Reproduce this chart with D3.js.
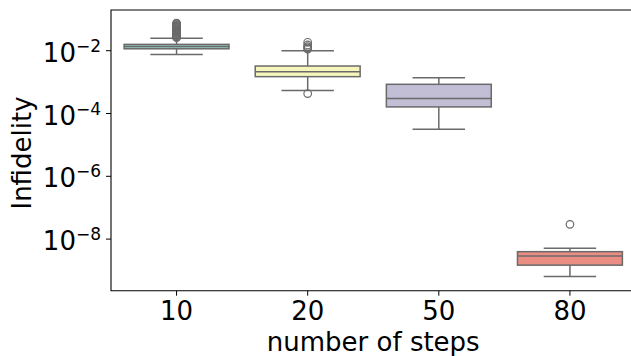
<!DOCTYPE html>
<html>
<head>
<meta charset="utf-8">
<script src="https://cdn.jsdelivr.net/npm/d3@7"></script>
<style>
  body { margin: 0; background: #fff; overflow: hidden; }
  svg { display: block; }
  text { font-family: "DejaVu Sans", sans-serif; fill: #000; }
</style>
</head>
<body>
<div id="chart"></div>
<script>
// box stats
const steps = ["10", "20", "50", "80"];
const whiskerLo = [7.5e-3, 5.4e-4, 3.16e-5, 6.5e-10];
const q1 = [1.15e-2, 1.49e-3, 1.62e-4, 1.48e-9];
const median = [1.35e-2, 2.15e-3, 3.0e-4, 2.88e-9];
const q3 = [1.59e-2, 3.25e-3, 8.5e-4, 3.98e-9];
const whiskerHi = [2.5e-2, 1.0e-2, 1.38e-3, 5.1e-9];
const outliers = [
  [0.026, 0.0275, 0.029, 0.0305, 0.032, 0.034, 0.036, 0.038, 0.040, 0.042,
   0.044, 0.046, 0.049, 0.052, 0.055, 0.058, 0.061, 0.064, 0.068, 0.072, 0.075],
  [0.0185, 0.0152, 0.0135, 0.0123, 0.0113, 4.3e-4],
  [],
  [2.95e-8]
];
const yTicks = [1e-2, 1e-4, 1e-6, 1e-8];
const colors = ["#96cac1", "#f6f6bc", "#c1bed6", "#ea8e83"];
const lineColor = "#6a6a6a";

const width = 631, height = 356;
const margin = { top: 10, left: 111, bottom: 65.3 };
const plotRight = 635.5;

const svg = d3.select("#chart").append("svg")
  .attr("width", width)
  .attr("height", height);

const x = d3.scaleBand()
  .domain(steps)
  .range([margin.left, plotRight])
  .padding(0);

const y = d3.scaleLog()
  .domain([Math.pow(10, -9.643), Math.pow(10, -0.704)])
  .range([height - margin.bottom, margin.top]);

const boxW = x.bandwidth() * 0.8;
const capW = boxW / 2;

const g = svg.append("g");

steps.forEach((s, i) => {
  const cx = x(s) + x.bandwidth() / 2;
  const bx = g.append("g");
  // whiskers
  bx.append("line")
    .attr("x1", cx).attr("x2", cx)
    .attr("y1", y(q3[i])).attr("y2", y(whiskerHi[i]));
  bx.append("line")
    .attr("x1", cx).attr("x2", cx)
    .attr("y1", y(q1[i])).attr("y2", y(whiskerLo[i]));
  bx.append("line")
    .attr("x1", cx - capW / 2).attr("x2", cx + capW / 2)
    .attr("y1", y(whiskerHi[i])).attr("y2", y(whiskerHi[i]));
  bx.append("line")
    .attr("x1", cx - capW / 2).attr("x2", cx + capW / 2)
    .attr("y1", y(whiskerLo[i])).attr("y2", y(whiskerLo[i]));
  bx.selectAll("line")
    .style("stroke", lineColor)
    .style("stroke-width", 1.5);
  // box
  bx.append("rect")
    .attr("x", cx - boxW / 2)
    .attr("y", y(q3[i]))
    .attr("width", boxW)
    .attr("height", y(q1[i]) - y(q3[i]))
    .style("fill", colors[i])
    .style("stroke", lineColor)
    .style("stroke-width", 1.5);
  bx.append("line")
    .attr("x1", cx - boxW / 2).attr("x2", cx + boxW / 2)
    .attr("y1", y(median[i])).attr("y2", y(median[i]))
    .style("stroke", lineColor)
    .style("stroke-width", 1.5);
  // fliers
  bx.selectAll("circle")
    .data(outliers[i])
    .enter()
    .append("circle")
    .attr("cx", cx)
    .attr("cy", (d) => y(d))
    .attr("r", 3.8)
    .style("fill", "none")
    .style("stroke", lineColor)
    .style("stroke-width", 1.2);
});

// spines
const yBottom = height - margin.bottom;
svg.append("path")
  .attr("d", `M${plotRight},${margin.top}H${margin.left}V${yBottom}H${plotRight}`)
  .style("fill", "none")
  .style("stroke", "#000")
  .style("stroke-width", 1.1);

// y ticks
const yt = svg.append("g").selectAll("g")
  .data(yTicks)
  .enter()
  .append("g")
  .attr("transform", (d) => `translate(0,${y(d)})`);
yt.append("line")
  .attr("x1", margin.left - 5).attr("x2", margin.left)
  .style("stroke", "#000").style("stroke-width", 1);
const ytText = yt.append("text")
  .attr("x", margin.left - 10)
  .attr("y", 11)
  .attr("text-anchor", "end")
  .style("font-size", "26px");
ytText.append("tspan").text("10");
ytText.append("tspan")
  .attr("dy", -10)
  .style("font-size", "17px")
  .text((d) => "\u2212" + Math.round(-Math.log10(d)));

// x ticks
const xt = svg.append("g").selectAll("g")
  .data(steps)
  .enter()
  .append("g")
  .attr("transform", (d) => `translate(${x(d) + x.bandwidth() / 2},${yBottom})`);
xt.append("line")
  .attr("y1", 0).attr("y2", 5)
  .style("stroke", "#000").style("stroke-width", 1);
xt.append("text")
  .attr("y", 29.5)
  .attr("text-anchor", "middle")
  .style("font-size", "26px")
  .text((d) => d);

// axis labels
svg.append("text")
  .attr("x", (margin.left + plotRight) / 2)
  .attr("y", 350.5)
  .attr("text-anchor", "middle")
  .style("font-size", "26px")
  .text("number of steps");

svg.append("text")
  .attr("transform", "translate(31,153) rotate(-90)")
  .attr("text-anchor", "middle")
  .style("font-size", "26px")
  .text("Infidelity");
</script>
</body>
</html>
